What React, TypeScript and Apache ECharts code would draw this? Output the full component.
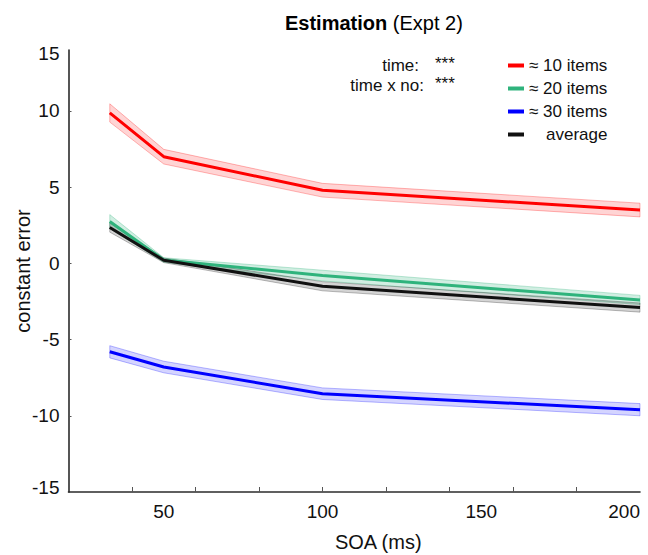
import React, { useEffect, useRef } from "react";
import * as echarts from "echarts";

const soa = [33, 50, 100, 200];

const seriesNames = ["≈ 10 items", "≈ 20 items", "≈ 30 items", "average"];
const items10 = [9.87, 7.0, 4.8, 3.5];
const items10Err = [0.6, 0.48, 0.45, 0.45];
const items20 = [2.75, 0.22, -0.8, -2.4];
const items20Err = [0.45, 0.15, 0.35, 0.3];
const items30 = [-5.8, -6.8, -8.55, -9.6];
const items30Err = [0.4, 0.38, 0.38, 0.4];
const average = [2.35, 0.2, -1.5, -2.9];
const averageErr = [0.3, 0.15, 0.3, 0.3];

const xLabelValues = [50, 100, 150, 200];
const xTickValues = [40, 60, 80, 100, 120, 140, 160, 180];
const yLabelValues = [-14.7, -10, -5, 0, 5, 10, 13.8];
const yTickValues = [-10, -5, 0, 5, 10];

const FONT = "'Liberation Sans', Arial, Helvetica, sans-serif";

const groups = [
  { name: seriesNames[0], mean: items10, err: items10Err, line: "#ff0000", fill: "rgba(255,0,0,0.17)", stroke: "rgba(255,0,0,0.28)" },
  { name: seriesNames[1], mean: items20, err: items20Err, line: "#2fb37c", fill: "rgba(47,179,124,0.22)", stroke: "rgba(47,179,124,0.3)" },
  { name: seriesNames[2], mean: items30, err: items30Err, line: "#0000ff", fill: "rgba(0,0,255,0.17)", stroke: "rgba(0,0,255,0.28)" },
  { name: seriesNames[3], mean: average, err: averageErr, line: "#111111", fill: "rgba(0,0,0,0.17)", stroke: "rgba(0,0,0,0.25)" },
];

export default function App() {
  const ref = useRef<HTMLDivElement>(null);
  useEffect(() => {
    if (!ref.current) return;
    const chart = echarts.init(ref.current, null, { renderer: "svg" });

    const bandSeries = groups.map((g) => ({
      type: "custom",
      name: g.name + " band",
      z: 1,
      silent: true,
      data: soa.map((x, i) => [x, g.mean[i] - g.err[i], g.mean[i] + g.err[i]]),
      encode: { x: 0, y: [1, 2] },
      renderItem: (params: any, api: any) => {
        if (params.dataIndex !== 0) return null;
        const pts: number[][] = [];
        for (let i = 0; i < soa.length; i++) pts.push(api.coord([soa[i], g.mean[i] + g.err[i]]));
        for (let i = soa.length - 1; i >= 0; i--) pts.push(api.coord([soa[i], g.mean[i] - g.err[i]]));
        return {
          type: "polygon",
          shape: { points: pts },
          style: { fill: g.fill, stroke: g.stroke, lineWidth: 1 },
        };
      },
    }));

    const lineSeries = groups.map((g) => ({
      type: "line",
      name: g.name,
      z: 3,
      showSymbol: false,
      symbol: "none",
      color: g.line,
      lineStyle: { color: g.line, width: 3 },
      data: soa.map((x, i) => [x, g.mean[i]]),
    }));

    chart.setOption({
      animation: false,
      title: {
        text: "{b|Estimation} {r|(Expt 2)}",
        left: 280,
        top: 8,
        textStyle: {
          fontWeight: "normal",
          fontFamily: FONT,
          fontSize: 20,
          rich: {
            b: { fontFamily: FONT, fontSize: 20, fontWeight: "bold", color: "#000" },
            r: { fontFamily: FONT, fontSize: 20, fontWeight: "normal", color: "#000" },
          },
        },
      },
      grid: { left: 68.5, right: 8, top: 50, bottom: 63, containLabel: false, outerBoundsMode: "none" },
      legend: {
        orient: "vertical",
        left: 503,
        top: 51,
        itemWidth: 16,
        itemHeight: 4,
        itemGap: 4,
        icon: "rect",
        data: seriesNames,
        textStyle: {
          fontFamily: FONT,
          fontSize: 17,
          color: "#111",
          lineHeight: 19,
          rich: { a: { fontFamily: FONT, fontSize: 17, color: "#111", padding: [0, 0, 0, 17] } },
        },
        formatter: (n: string) => (n === "average" ? "{a|average}" : n),
      },
      xAxis: {
        type: "value",
        min: 20,
        max: 200,
        name: "SOA (ms)",
        nameLocation: "middle",
        nameGap: 40,
        nameTextStyle: { fontFamily: FONT, fontSize: 20, color: "#111", padding: [0, 0, 0, 48] },
        splitLine: { show: false },
        axisLine: { show: true, onZero: false, lineStyle: { color: "#2b2b2b", width: 1.6 } },
        axisTick: { show: true, inside: true, length: 5, customValues: xTickValues, lineStyle: { color: "#555", width: 1 } },
        axisLabel: {
          customValues: xLabelValues,
          fontFamily: FONT,
          fontSize: 19,
          color: "#111",
          margin: 10,
          alignMaxLabel: "right",
        },
      },
      yAxis: {
        type: "value",
        min: -15,
        max: 14,
        name: "constant error",
        nameLocation: "middle",
        nameGap: 36,
        nameMoveOverlap: false,
        nameTextStyle: { fontFamily: FONT, fontSize: 20, color: "#111" },
        splitLine: { show: false },
        axisLine: { show: true, onZero: false, lineStyle: { color: "#2b2b2b", width: 1.6 } },
        axisTick: { show: true, inside: true, length: 3, customValues: yTickValues, lineStyle: { color: "#555", width: 1 } },
        axisLabel: {
          customValues: yLabelValues,
          fontFamily: FONT,
          fontSize: 19,
          color: "#111",
          margin: 9,
          formatter: (v: number) => (v > 13 ? "15" : v < -14 ? "-15" : String(v)),
        },
      },
      graphic: [
        { type: "text", x: 419, y: 65, style: { text: "time:", textAlign: "right", textVerticalAlign: "middle", font: `17px ${FONT}`, fill: "#111" } },
        { type: "text", x: 435, y: 63, style: { text: "***", textAlign: "left", textVerticalAlign: "middle", font: `17px ${FONT}`, fill: "#111" } },
        { type: "text", x: 424, y: 85, style: { text: "time x no:", textAlign: "right", textVerticalAlign: "middle", font: `17px ${FONT}`, fill: "#111" } },
        { type: "text", x: 435, y: 83, style: { text: "***", textAlign: "left", textVerticalAlign: "middle", font: `17px ${FONT}`, fill: "#111" } },
      ],
      series: [...bandSeries, ...lineSeries],
    });

    return () => chart.dispose();
  }, []);

  return <div ref={ref} style={{ width: 648, height: 555, position: "absolute", left: 0, top: 0 }} />;
}
